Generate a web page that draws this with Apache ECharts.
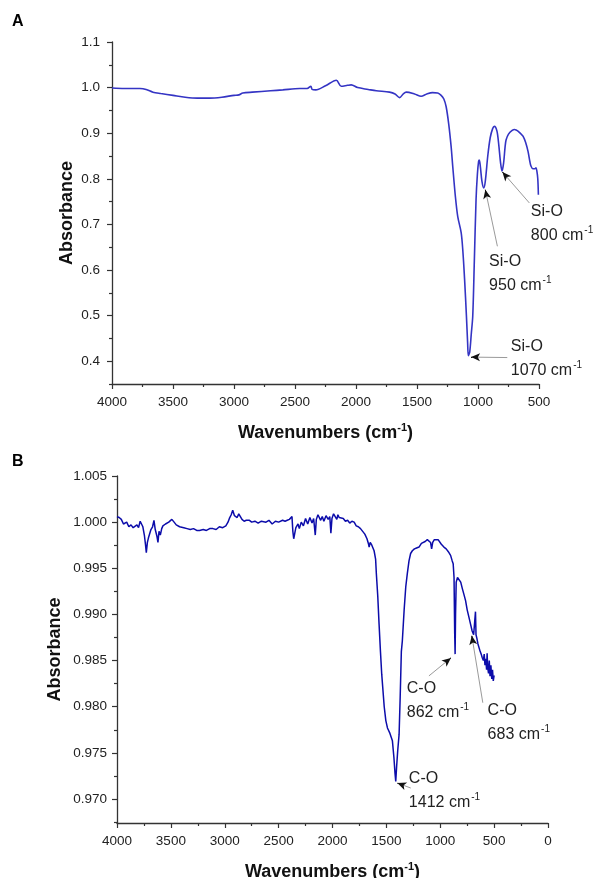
<!DOCTYPE html>
<html><head><meta charset="utf-8">
<script src="https://cdn.jsdelivr.net/npm/echarts@6/dist/echarts.min.js"></script>
<style>html,body{margin:0;padding:0;background:#fff}#c{width:601px;height:878px}</style>
</head><body><div id="c"></div>
<script>
// ---------- Panel A data ----------
const topWn = [4000,3900,3800,3771,3720,3664,3600,3500,3400,3300,3200,3100,3000,2960,2928,2850,2700,2600,2462,2400,2370,2360,2330,2250,2161,2121,2070,2039,1987,1900,1834,1725,1680,1643,1610,1588,1520,1466,1420,1373,1330,1302,1280,1261,1240,1220,1207,1185,1166,1138,1125,1110,1095,1085,1079,1068,1055,1043,1030,1016,1005,995,989,980,968,953,940,920,900,880,866,845,830,815,803,790,778,770,750,720,700,688,670,650,630,610,590,575,566,550,535,525,518,510,505];
const topAbs = [0.999,0.998,0.998,0.998,0.996,0.990,0.987,0.983,0.979,0.977,0.977,0.979,0.983,0.984,0.988,0.990,0.993,0.995,0.998,0.998,1.003,0.996,0.995,1.004,1.016,1.003,1.005,1.006,1.000,0.996,0.993,0.990,0.986,0.978,0.987,0.990,0.986,0.981,0.986,0.989,0.988,0.983,0.975,0.958,0.920,0.870,0.827,0.760,0.717,0.682,0.645,0.580,0.500,0.440,0.412,0.420,0.460,0.499,0.620,0.754,0.810,0.838,0.841,0.825,0.795,0.780,0.795,0.850,0.890,0.910,0.915,0.905,0.875,0.835,0.817,0.835,0.870,0.885,0.898,0.906,0.908,0.907,0.904,0.899,0.893,0.880,0.860,0.838,0.828,0.822,0.822,0.824,0.818,0.800,0.765];
const topYTicks = [0.4,0.5,0.6,0.7,0.8,0.9,1.0,1.1];
const topYMinor = [0.35,0.45,0.55,0.65,0.75,0.85,0.95,1.05];

// ---------- Panel B data ----------
const botWn = [4000,3980,3960,3940,3929,3910,3890,3870,3850,3836,3815,3800,3785,3774,3760,3745,3735,3728,3718,3708,3697,3685,3670,3657,3645,3630,3620,3610,3598,3585,3574,3550,3520,3491,3470,3450,3419,3380,3350,3320,3290,3260,3234,3200,3170,3140,3110,3080,3050,3019,2990,2970,2957,2940,2926,2910,2895,2885,2870,2855,2840,2820,2800,2771,2750,2720,2690,2660,2617,2590,2560,2530,2500,2463,2440,2420,2400,2376,2368,2360,2350,2340,2320,2308,2290,2270,2250,2230,2210,2190,2175,2160,2150,2135,2123,2110,2095,2080,2060,2040,2025,2015,2005,1990,1975,1960,1950,1938,1920,1900,1880,1860,1840,1820,1799,1780,1760,1740,1722,1700,1680,1665,1660,1650,1635,1614,1600,1593,1580,1568,1555,1543,1520,1505,1490,1470,1444,1430,1420,1413,1405,1395,1382,1372,1361,1352,1335,1320,1306,1290,1275,1259,1240,1220,1197,1175,1160,1140,1120,1105,1090,1080,1070,1055,1037,1020,1005,990,975,966,945,925,904,889,880,872,866,862,858,852,840,827,810,795,781,765,750,734,720,704,690,680,673,668,660,650,640,630,620,610,600,592,585,578,570,565,560,552,545,538,530,522,515,508,500];
const botAbs = [1.0006,1.0005,1.0003,0.9998,0.9996,1.0000,0.9995,0.9997,0.9994,0.9994,0.9997,0.9994,1.0001,1.0003,0.9995,0.9985,0.9975,0.9967,0.9978,0.9983,0.9984,0.9992,0.9995,1.0002,0.9992,0.9985,0.9978,0.9990,0.9986,0.9993,0.9996,0.9998,1.0000,1.0003,1.0000,0.9997,0.9995,0.9994,0.9993,0.9992,0.9993,0.9991,0.9991,0.9992,0.9991,0.9993,0.9993,0.9992,0.9995,0.9994,0.9996,1.0000,1.0004,1.0008,1.0013,1.0007,1.0005,1.0005,1.0009,1.0010,1.0003,1.0001,1.0002,1.0002,1.0000,1.0001,0.9999,1.0001,1.0000,1.0002,0.9998,1.0001,1.0000,1.0002,1.0001,1.0002,1.0003,1.0006,0.9990,0.9982,0.9988,0.9994,0.9998,0.9993,1.0000,0.9996,1.0004,0.9998,1.0005,0.9999,1.0004,0.9986,1.0003,1.0008,1.0007,1.0002,1.0006,1.0001,1.0007,1.0003,1.0006,0.9988,1.0004,1.0009,1.0006,1.0003,1.0008,1.0005,1.0003,1.0004,1.0001,1.0002,0.9999,1.0001,1.0000,0.9996,0.9995,0.9993,0.9993,0.9987,0.9982,0.9976,0.9973,0.9978,0.9975,0.9969,0.9960,0.9944,0.9920,0.9890,0.9860,0.9835,0.9800,0.9785,0.9777,0.9772,0.9763,0.9745,0.9728,0.9719,0.9735,0.9752,0.9770,0.9810,0.9860,0.9871,0.9905,0.9930,0.9944,0.9958,0.9966,0.9969,0.9971,0.9972,0.9973,0.9977,0.9976,0.9979,0.9981,0.9980,0.9978,0.9971,0.9978,0.9981,0.9983,0.9981,0.9979,0.9976,0.9975,0.9973,0.9971,0.9968,0.9964,0.9958,0.9955,0.9940,0.9880,0.9857,0.9900,0.9935,0.9940,0.9940,0.9935,0.9928,0.9922,0.9915,0.9905,0.9897,0.9890,0.9882,0.9878,0.9880,0.9903,0.9878,0.9874,0.9868,0.9866,0.9860,0.9857,0.9853,0.9850,0.9857,0.9845,0.9852,0.9840,0.9858,0.9843,0.9836,0.9850,0.9833,0.9845,0.9830,0.9840,0.9828,0.9834];
const botYTicks = [0.970,0.975,0.980,0.985,0.990,0.995,1.000,1.005];
const botYMinor = [0.9675,0.9725,0.9775,0.9825,0.9875,0.9925,0.9975,1.0025];

// ---------- Annotations (data coordinates) ----------
const topNotes = [
  {name:'Si-O', band:'800',  label:[571,0.7015], tail:[579,0.747], tip:[800,0.815]},
  {name:'Si-O', band:'950',  label:[913,0.5925], tail:[841,0.652], tip:[940,0.776]},
  {name:'Si-O', band:'1070', label:[735,0.4065], tail:[760,0.408], tip:[1057,0.409]}
];
const botNotes = [
  {name:'C-O', band:'862',  label:[1315,0.980655], tail:[1105,0.98334], tip:[901,0.98529]},
  {name:'C-O', band:'683',  label:[565,0.978265],  tail:[605,0.98043],  tip:[707,0.98768]},
  {name:'C-O', band:'1412', label:[1296,0.97092],  tail:[1274,0.97119], tip:[1398,0.97174]}
];

const FONT = 'Liberation Sans, Arial, Helvetica, sans-serif';
const TXT = '#222';
const zip = (a,b) => a.map((v,i)=>[v,b[i]]);

function markPointsFor(notes){
  return {
    silent:true, animation:false,
    data: notes.map(n => ({
      coord:n.label, symbol:'circle', symbolSize:1, itemStyle:{color:'rgba(0,0,0,0)'},
      label:{show:true, position:'right', distance:0,
        formatter:'{t|'+n.name+'}\n{t|'+n.band+' cm}{s|-1}',
        rich:{t:{fontSize:16, fontFamily:FONT, color:TXT, lineHeight:24},
              s:{fontSize:10, fontFamily:FONT, color:TXT, padding:[0,0,10,1], lineHeight:24}}}
    }))
  };
}
function markLinesFor(notes){
  const data = [];
  notes.forEach(n => {
    data.push([{coord:n.tail, lineStyle:{color:'#9a9a9a', width:1, type:'solid'}, symbol:'none'},
               {coord:n.tip, symbol:'none'}]);
  });
  notes.forEach(n => {
    const f = 0.04;
    const near = [n.tip[0] + (n.tail[0]-n.tip[0])*f, n.tip[1] + (n.tail[1]-n.tip[1])*f];
    data.push([{coord:near, lineStyle:{color:'#111', width:1, type:'solid'}, symbol:'none'},
               {coord:n.tip, symbol:'arrow', symbolSize:[6,9]}]);
  });
  return {silent:true, animation:false, symbol:['none','arrow'], symbolSize:[6,9],
          label:{show:false}, emphasis:{disabled:true}, data};
}

function xAxisCfg(gridIndex, min, max, gap){
  return {
    type:'value', gridIndex, min, max, interval:500, inverse:true,
    name:'{b|Wavenumbers (cm}{sb|-1}{b|)}', nameLocation:'middle', nameGap:gap, nameMoveOverlap:false,
    nameTextStyle:{rich:{b:{fontSize:18, fontWeight:'bold', fontFamily:FONT, color:'#111'},
                        sb:{fontSize:11, fontWeight:'bold', fontFamily:FONT, color:'#111', padding:[0,0,11,0]}}},
    axisLine:{show:true, onZero:false, lineStyle:{color:'#333', width:1.3}},
    axisTick:{show:true, length:5, lineStyle:{color:'#333', width:1.2}},
    minorTick:{show:true, splitNumber:2, length:3, lineStyle:{color:'#333', width:1.2}},
    axisLabel:{fontSize:13.5, fontFamily:FONT, color:TXT, margin:11, formatter:v => String(v)},
    splitLine:{show:false}
  };
}
function yAxisCfg(gridIndex, min, max, ticks, digits, gap, margin){
  return {
    type:'value', gridIndex, min, max, position:'left',
    name:'Absorbance', nameLocation:'middle', nameGap:gap, nameMoveOverlap:false,
    nameTextStyle:{fontSize:18, fontWeight:'bold', fontFamily:FONT, color:'#111'},
    axisLine:{show:true, onZero:false, lineStyle:{color:'#333', width:1.3}},
    axisTick:{show:true, length:5, customValues:ticks, lineStyle:{color:'#333', width:1.2}},
    axisLabel:{fontSize:13.5, fontFamily:FONT, color:TXT, margin, customValues:ticks,
               formatter:v => Number(v).toFixed(digits)},
    splitLine:{show:false}
  };
}
function yMinorCfg(gridIndex, min, max, ticks){
  return {
    type:'value', gridIndex, min, max, position:'left',
    axisLine:{show:false, onZero:false}, axisLabel:{show:false}, splitLine:{show:false},
    axisTick:{show:true, length:3, customValues:ticks, lineStyle:{color:'#333', width:1.2}}
  };
}

const chart = echarts.init(document.getElementById('c'), null, {renderer:'canvas'});
chart.setOption({
  animation:false,
  backgroundColor:'#fff',
  graphic:[
    {type:'text', left:12, top:14, style:{text:'A', fontSize:16, fontWeight:'bold', fontFamily:FONT, fill:'#000'}},
    {type:'text', left:12, top:454, style:{text:'B', fontSize:16, fontWeight:'bold', fontFamily:FONT, fill:'#000'}}
  ],
  grid:[
    {left:112, right:62, top:42, bottom:494, containLabel:false, outerBoundsMode:'none'},
    {left:117, right:53, top:476, bottom:55, containLabel:false, outerBoundsMode:'none'}
  ],
  xAxis:[ xAxisCfg(0, 500, 4000, 38), xAxisCfg(1, 0, 4000, 38) ],
  yAxis:[
    yAxisCfg(0, 0.35, 1.1, topYTicks, 1, 36, 12),
    yMinorCfg(0, 0.35, 1.1, topYMinor),
    yAxisCfg(1, 0.9674, 1.005, botYTicks, 3, 53, 10),
    yMinorCfg(1, 0.9674, 1.005, botYMinor)
  ],
  series:[
    {type:'line', xAxisIndex:0, yAxisIndex:0, data:zip(topWn, topAbs), showSymbol:false, smooth:0.3,
     lineStyle:{color:'#3434c4', width:1.6}, itemStyle:{color:'#3434c4'},
     markPoint:markPointsFor(topNotes), markLine:markLinesFor(topNotes)},
    {type:'line', xAxisIndex:1, yAxisIndex:2, data:zip(botWn, botAbs), showSymbol:false,
     lineStyle:{color:'#0c0caa', width:1.5}, itemStyle:{color:'#0c0caa'},
     markPoint:markPointsFor(botNotes), markLine:markLinesFor(botNotes)}
  ]
});
</script>
</body></html>
